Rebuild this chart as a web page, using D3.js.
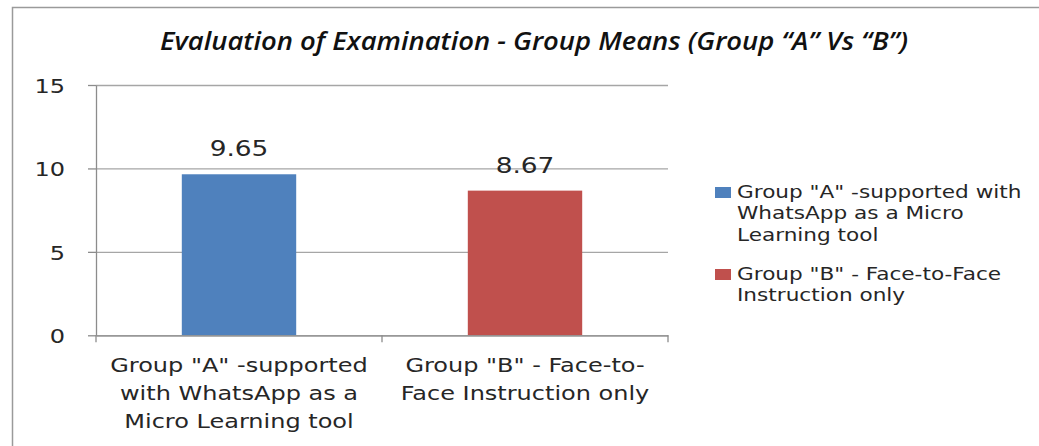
<!DOCTYPE html>
<html>
<head>
<meta charset="utf-8">
<script src="https://cdn.jsdelivr.net/npm/d3@7"></script>
<style>
  body { margin: 0; background: #fff; }
  svg text { font-family: "DejaVu Sans", Verdana, sans-serif; fill: #262626; }
</style>
</head>
<body>
<div class="viz"></div>
<script>
// data
var groups = ['A', 'B'];
var means = [9.65, 8.67];
var barColors = ['#4F81BD', '#C0504D'];
var categoryLines = [
    ['Group "A" -supported', 'with WhatsApp as a', 'Micro Learning tool'],
    ['Group "B" - Face-to-', 'Face Instruction only']
];
var legendLines = [
    ['Group "A" -supported with', 'WhatsApp as a Micro', 'Learning tool'],
    ['Group "B" - Face-to-Face', 'Instruction only']
];
var yTicks = [0, 5, 10, 15];
var title = 'Evaluation of Examination - Group Means (Group \u201CA\u201D Vs \u201CB\u201D)';

var width = 1039, height = 446;
var stretch = 1.2; // the picture is squeezed sideways, text looks wide
var plot = {left: 96, right: 668, top: 85, bottom: 335.3};

var svg = d3.select('.viz').append('svg')
    .attr('width', width)
    .attr('height', height);

// outer frame (right and bottom edges fall outside the picture)
svg.append('path')
    .attr('d', 'M12.5,' + height + 'V7.5H' + width)
    .attr('fill', 'none')
    .attr('stroke', '#9a9a9a')
    .attr('stroke-width', 1.5);

svg.append('text')
    .attr('x', 534)
    .attr('y', 50)
    .attr('text-anchor', 'middle')
    .attr('textLength', 748)
    .attr('lengthAdjust', 'spacingAndGlyphs')
    .style('font-family', '"Open Sans", sans-serif')
    .style('font-style', 'italic')
    .style('font-weight', 600)
    .style('font-size', '26px')
    .style('fill', '#111')
    .text(title);

var x = d3.scaleBand()
    .domain(groups)
    .range([plot.left, plot.right])
    .paddingInner(0)
    .paddingOuter(0);

var y = d3.scaleLinear()
    .domain([0, 15])
    .range([plot.bottom, plot.top]);

// gridlines
svg.append('g')
    .attr('class', 'grid')
    .attr('transform', 'translate(' + plot.left + ',0)')
    .call(d3.axisLeft(y).tickValues(yTicks).tickSize(-(plot.right - plot.left)).tickFormat(''))
    .call(function (g) {
        g.select('.domain').remove();
        g.selectAll('line').attr('stroke', '#a6a6a6').attr('stroke-width', 1.3);
    });

// y axis with labels
svg.append('g')
    .attr('class', 'y-axis')
    .attr('transform', 'translate(' + plot.left + ',0)')
    .call(d3.axisLeft(y).tickValues(yTicks).tickSize(8).tickSizeOuter(0))
    .call(function (g) {
        g.select('.domain').attr('stroke', '#8c8c8c').attr('stroke-width', 1.3);
        g.selectAll('line').attr('stroke', '#8c8c8c').attr('stroke-width', 1.3);
        g.selectAll('text')
            .attr('x', -31 / stretch)
            .attr('dy', '0.36em')
            .attr('transform', 'scale(' + stretch + ',1)')
            .style('font-family', '"DejaVu Sans", sans-serif')
            .style('font-size', '20px')
            .style('fill', '#262626');
    });

// bars
var barW = x.bandwidth() / 2.5;
svg.selectAll('.bar')
    .data(means)
    .enter().append('rect')
    .attr('class', 'bar')
    .attr('x', function (d, i) { return x(groups[i]) + x.bandwidth() / 2 - barW / 2; })
    .attr('y', function (d) { return y(d); })
    .attr('width', barW)
    .attr('height', function (d) { return y(0) - y(d); })
    .attr('fill', function (d, i) { return barColors[i]; });

// x axis
svg.append('g')
    .attr('class', 'x-axis')
    .attr('transform', 'translate(0,' + y(0) + ')')
    .call(d3.axisBottom(x).tickValues([]).tickSizeOuter(0))
    .call(function (g) {
        g.select('.domain').attr('stroke', '#8c8c8c').attr('stroke-width', 1.3);
    });

svg.select('.x-axis').selectAll('.sep')
    .data(d3.range(groups.length + 1))
    .enter().append('line')
    .attr('class', 'sep')
    .attr('x1', function (i) { return plot.left + i * x.step(); })
    .attr('x2', function (i) { return plot.left + i * x.step(); })
    .attr('y1', 0)
    .attr('y2', 7)
    .attr('stroke', '#8c8c8c')
    .attr('stroke-width', 1.3);

// category labels
var cat = svg.selectAll('.cat')
    .data(categoryLines)
    .enter().append('text')
    .attr('class', 'cat')
    .attr('text-anchor', 'middle')
    .attr('transform', function (d, i) {
        return 'translate(' + (x(groups[i]) + x.bandwidth() / 2) + ',372) scale(' + stretch + ',1)';
    })
    .style('font-size', '20px');

cat.selectAll('tspan')
    .data(function (d) { return d; })
    .enter().append('tspan')
    .attr('x', 0)
    .attr('y', function (d, i) { return i * 28; })
    .text(function (d) { return d; });

// value labels
svg.selectAll('.val')
    .data(means)
    .enter().append('text')
    .attr('class', 'val')
    .attr('text-anchor', 'middle')
    .attr('transform', function (d, i) {
        return 'translate(' + (x(groups[i]) + x.bandwidth() / 2) + ',' + (y(d) - 18) + ') scale(' + stretch + ',1)';
    })
    .style('font-size', '22px')
    .text(function (d) { return d.toFixed(2); });

// legend
var legendTop = [198, 280];
var leg = svg.selectAll('.legend')
    .data(legendLines)
    .enter().append('g')
    .attr('class', 'legend')
    .attr('transform', function (d, i) { return 'translate(715,' + legendTop[i] + ')'; });

leg.append('rect')
    .attr('x', 0)
    .attr('y', -11)
    .attr('width', 16)
    .attr('height', 11)
    .attr('fill', function (d, i) { return barColors[i]; });

leg.append('text')
    .attr('transform', 'translate(22,0) scale(' + stretch + ',1)')
    .style('font-size', '18px')
    .selectAll('tspan')
    .data(function (d) { return d; })
    .enter().append('tspan')
    .attr('x', 0)
    .attr('y', function (d, i) { return i * 21.5; })
    .text(function (d) { return d; });
</script>
</body>
</html>
